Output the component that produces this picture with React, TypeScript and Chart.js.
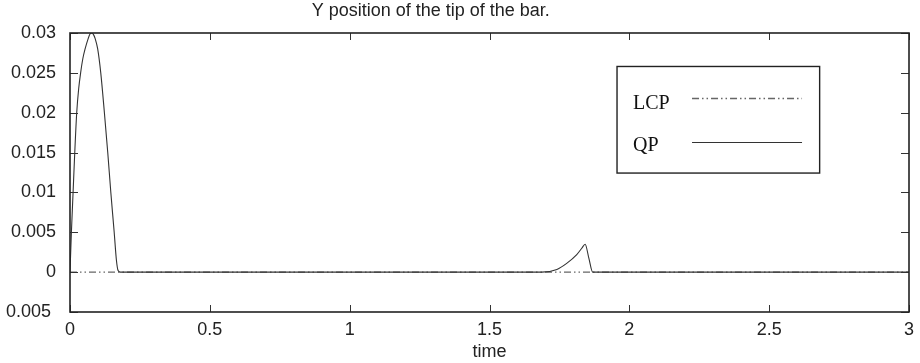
import React, { useEffect, useRef } from "react";
import { Chart, registerables } from "chart.js";

Chart.register(...registerables);

const TITLE = "Y position of the tip of the bar.";
const X_LABEL = "time";
const X_TICKS = [0, 0.5, 1, 1.5, 2, 2.5, 3];
const Y_TICKS = [-0.005, 0, 0.005, 0.01, 0.015, 0.02, 0.025, 0.03];
const Y_TICK_LABELS = ["0.005 ", "0", "0.005", "0.01", "0.015", "0.02", "0.025", "0.03"];

const qpTime = [
  0, 0.005, 0.011, 0.017, 0.024, 0.031, 0.038, 0.046, 0.054, 0.065, 0.072, 0.078,
  0.084, 0.09, 0.099, 0.11, 0.123, 0.135, 0.146, 0.158, 0.166, 0.172, 0.18,
  0.5, 1.0, 1.5, 1.687, 1.741, 1.776, 1.812, 1.83, 1.842, 1.855, 1.869, 2.0, 2.5, 3.0,
];
const qpValue = [
  0, 0.005, 0.01, 0.015, 0.02, 0.023, 0.025, 0.0268, 0.028, 0.0293, 0.0299, 0.03,
  0.0298, 0.0293, 0.028, 0.025, 0.02, 0.015, 0.01, 0.005, 0.0015, 0.0002, 0,
  0, 0, 0, 0, 0.00034, 0.0011, 0.0022, 0.003, 0.0035, 0.0018, 0, 0, 0, 0,
];

const lcpTime = [0, 0.5, 1, 1.5, 2, 2.5, 3];
const lcpValue = [0, 0, 0, 0, 0, 0, 0];

const SANS = "'Liberation Sans', Arial, Helvetica, sans-serif";
const SERIF = "'Liberation Serif', 'Times New Roman', serif";

const framePlugin = {
  id: "frameAndTicks",
  afterDraw(chart: any) {
    const { ctx, chartArea: a, scales } = chart;
    const x = scales.x;
    const y = scales.y;
    ctx.save();
    ctx.strokeStyle = "#333";
    ctx.lineWidth = 1;
    const line = (x1: number, y1: number, x2: number, y2: number) => {
      ctx.beginPath();
      ctx.moveTo(x1, y1);
      ctx.lineTo(x2, y2);
      ctx.stroke();
    };
    X_TICKS.forEach((v) => {
      const px = Math.round(x.getPixelForValue(v)) + 0.5;
      line(px, a.bottom, px, a.bottom - 7);
      line(px, a.top, px, a.top + 7);
    });
    Y_TICKS.forEach((v) => {
      const py = Math.round(y.getPixelForValue(v)) + 0.5;
      line(a.left, py, a.left + 8, py);
      line(a.right, py, a.right - 8, py);
    });
    ctx.strokeStyle = "#222";
    ctx.lineWidth = 1.6;
    ctx.strokeRect(a.left, a.top, a.right - a.left, a.bottom - a.top);

    // title
    ctx.fillStyle = "#222";
    ctx.font = `18px ${SANS}`;
    ctx.textAlign = "center";
    ctx.textBaseline = "middle";
    ctx.fillText(TITLE, a.left + 0.43 * (a.right - a.left), 11);

    // legend
    const w = a.right - a.left;
    const h = a.bottom - a.top;
    const bx = a.left + 0.652 * w;
    const bx2 = a.left + 0.8935 * w;
    const by = a.top + 0.12 * h;
    const by2 = a.top + 0.502 * h;
    ctx.fillStyle = "#fff";
    ctx.fillRect(bx, by, bx2 - bx, by2 - by);
    ctx.strokeStyle = "#222";
    ctx.lineWidth = 1.4;
    ctx.strokeRect(bx, by, bx2 - bx, by2 - by);
    const ds = chart.data.datasets;
    const order = [1, 0];
    order.forEach((di, row) => {
      const d = ds[di];
      const baseY = by + 42.5 + row * 42.5;
      const lineY = by + 32 + row * 43.5;
      ctx.fillStyle = "#111";
      ctx.font = `20px ${SERIF}`;
      ctx.textAlign = "left";
      ctx.textBaseline = "alphabetic";
      ctx.fillText(d.label, bx + 16, baseY);
      ctx.strokeStyle = d.borderColor;
      ctx.lineWidth = d.borderWidth;
      ctx.setLineDash(d.borderDash || []);
      line(bx + 75, Math.round(lineY) + 0.5, bx + 185, Math.round(lineY) + 0.5);
      ctx.setLineDash([]);
    });
    ctx.restore();
  },
};

export default function App() {
  const ref = useRef<HTMLCanvasElement | null>(null);
  useEffect(() => {
    if (!ref.current) return;
    const chart = new Chart(ref.current, {
      type: "line",
      data: {
        datasets: [
          {
            label: "QP",
            data: qpTime.map((t, i) => ({ x: t, y: qpValue[i] })),
            borderColor: "#333",
            borderWidth: 1.1,
            pointRadius: 0,
            cubicInterpolationMode: "monotone",
            fill: false,
          },
          {
            label: "LCP",
            data: lcpTime.map((t, i) => ({ x: t, y: lcpValue[i] })),
            borderColor: "#666",
            borderWidth: 1.4,
            borderDash: [7, 3, 1.5, 3, 1.5, 3],
            pointRadius: 0,
            fill: false,
          },
        ],
      },
      options: {
        animation: false,
        responsive: true,
        maintainAspectRatio: false,
        layout: { padding: { top: 33, left: 0, right: 11, bottom: 0 } },
        plugins: { legend: { display: false }, title: { display: false }, tooltip: { enabled: false } },
        scales: {
          x: {
            type: "linear",
            min: 0,
            max: 3,
            grid: { display: false },
            border: { display: false },
            afterBuildTicks: (s: any) => {
              s.ticks = X_TICKS.map((v) => ({ value: v }));
            },
            afterFit: (s: any) => {
              s.height = 51;
            },
            ticks: {
              padding: -1,
              color: "#222",
              maxRotation: 0,
              autoSkip: false,
              font: { family: SANS, size: 18 },
              callback: (v: any) => String(v),
            },
            title: {
              display: true,
              text: X_LABEL,
              color: "#222",
              padding: 0,
              font: { family: SANS, size: 18 },
            },
          },
          y: {
            type: "linear",
            min: -0.005,
            max: 0.03,
            grid: { display: false },
            border: { display: false },
            afterBuildTicks: (s: any) => {
              s.ticks = Y_TICKS.map((v) => ({ value: v }));
            },
            afterFit: (s: any) => {
              s.width = 70;
            },
            ticks: {
              padding: 6,
              color: "#222",
              autoSkip: false,
              font: { family: SANS, size: 18 },
              callback: (v: any) => {
                const i = Y_TICKS.findIndex((t) => Math.abs(t - v) < 1e-9);
                return i >= 0 ? Y_TICK_LABELS[i] : "";
              },
            },
          },
        },
      },
      plugins: [framePlugin],
    } as any);
    return () => chart.destroy();
  }, []);
  return (
    <div style={{ position: "absolute", left: 0, top: 0, width: 920, height: 363, background: "#fff" }}>
      <canvas ref={ref} />
    </div>
  );
}
